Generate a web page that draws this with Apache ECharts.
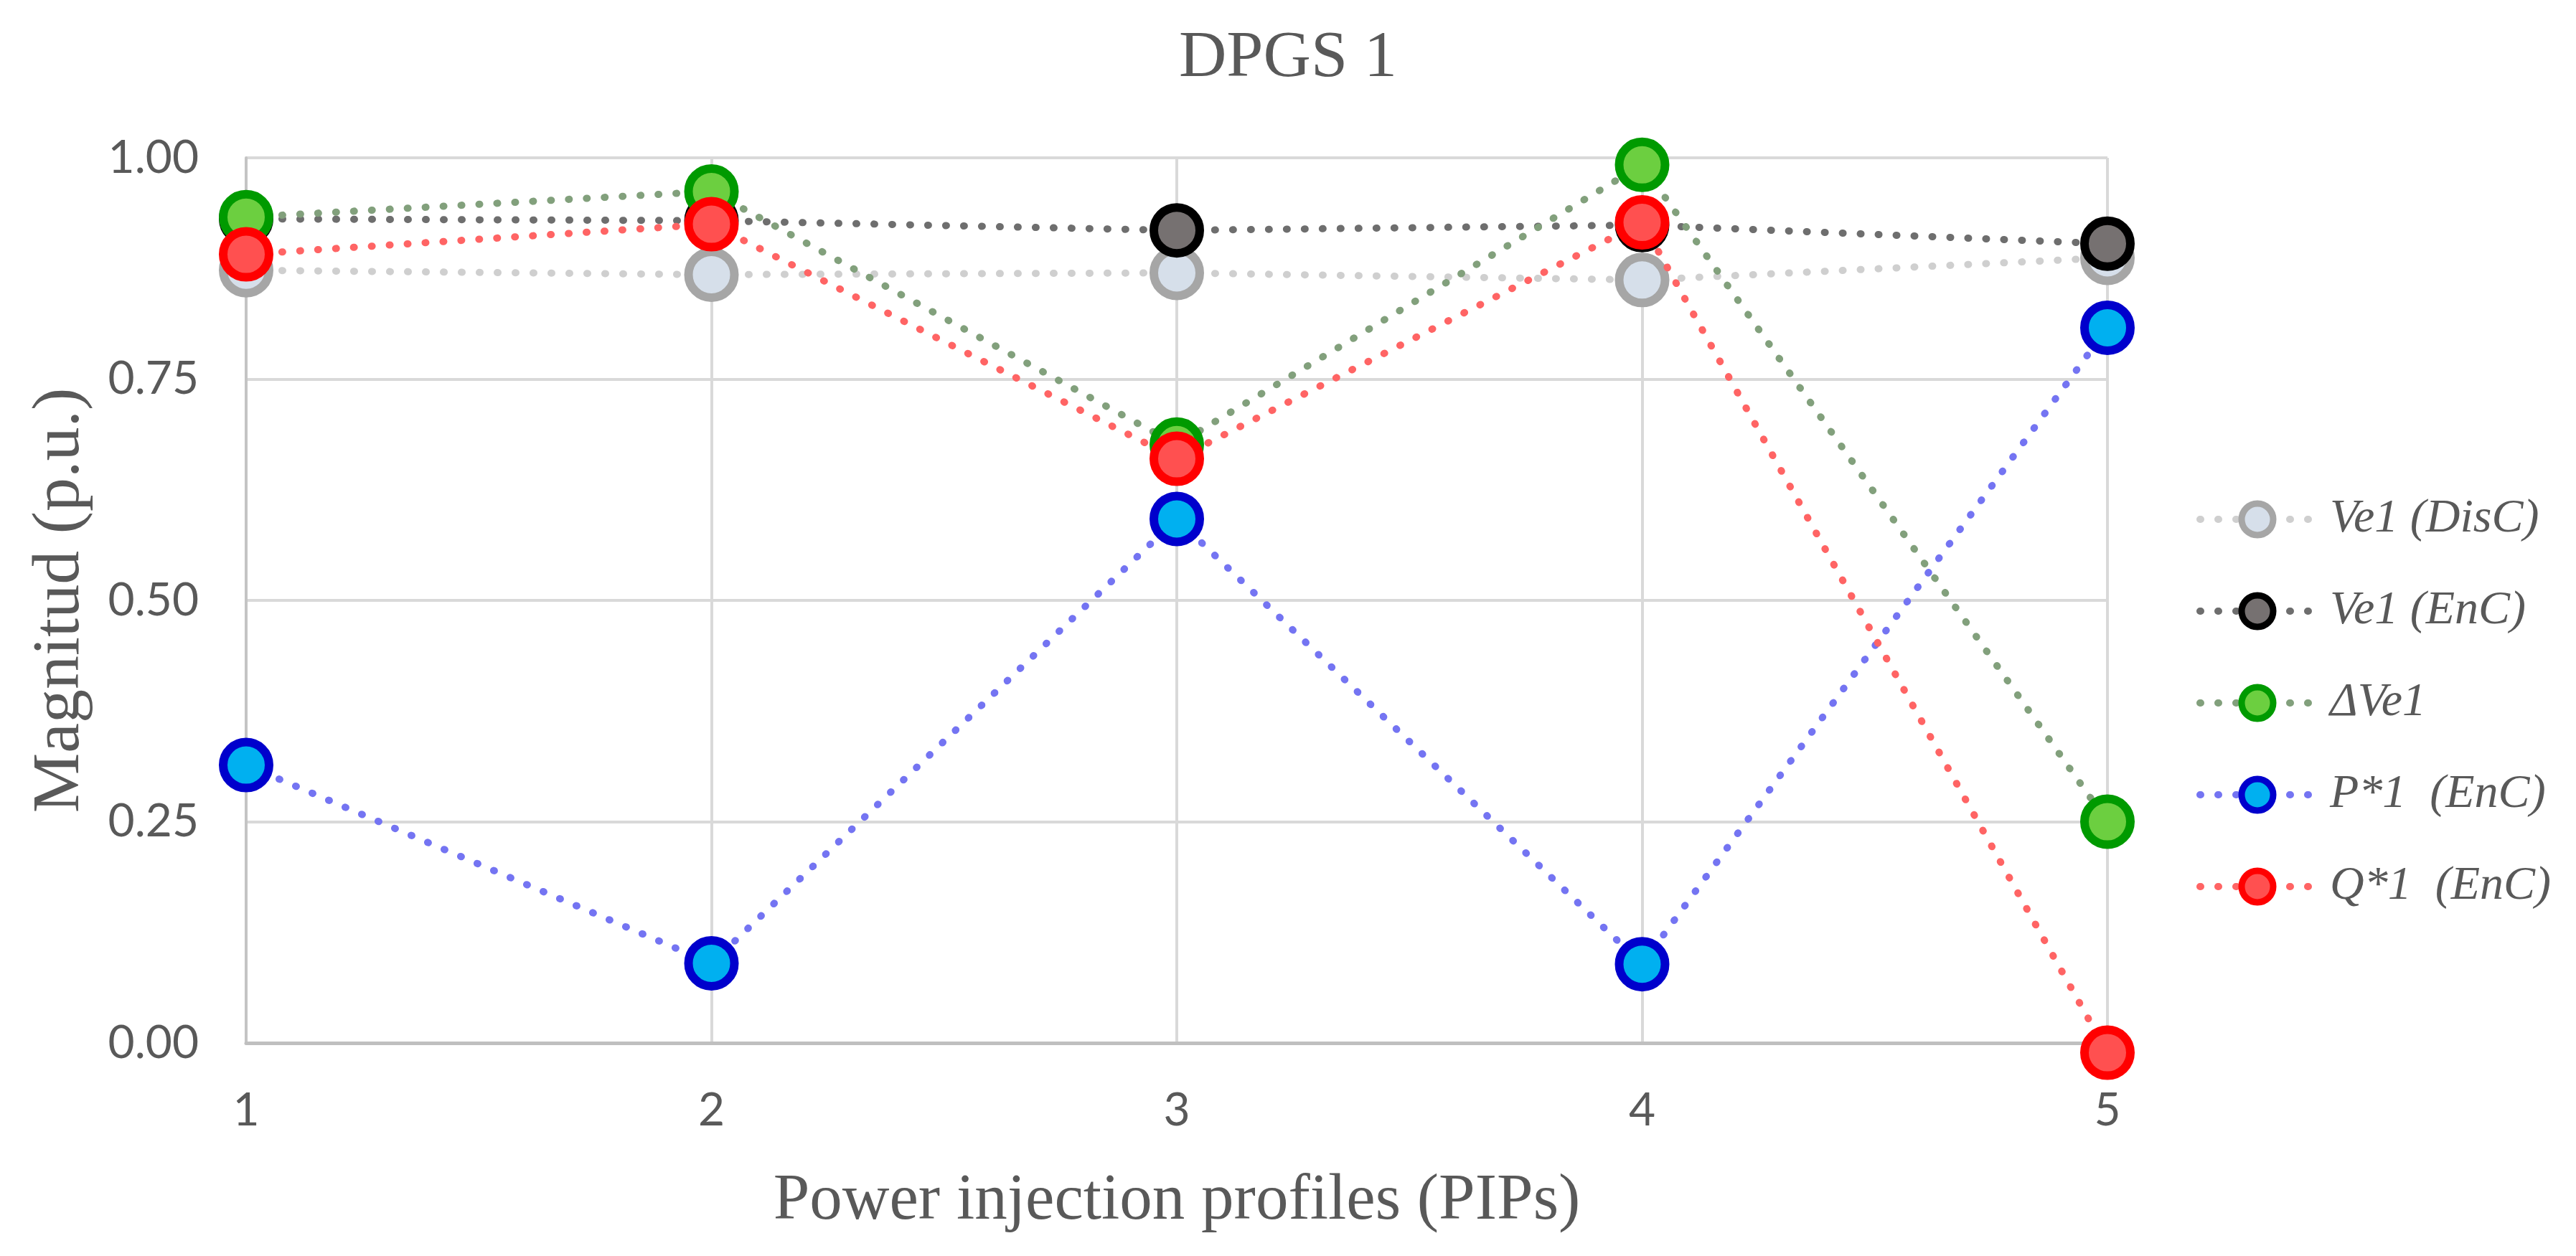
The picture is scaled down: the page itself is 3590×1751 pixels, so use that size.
<!DOCTYPE html>
<html>
<head>
<meta charset="utf-8">
<script src="https://cdn.jsdelivr.net/npm/echarts@6/dist/echarts.min.js"></script>
<style>
html,body{margin:0;padding:0;background:#fff;}
#c{width:3590px;height:1751px;}
</style>
</head>
<body>
<div id="c"></div>
<script>
const categories = ['1', '2', '3', '4', '5'];
const ve1DisC = [0.873, 0.868, 0.870, 0.862, 0.887];
const ve1EnC  = [0.931, 0.929, 0.918, 0.924, 0.903];
const dVe1    = [0.933, 0.962, 0.676, 0.992, 0.250];
const pStar1  = [0.314, 0.090, 0.592, 0.089, 0.808];
const qStar1  = [0.891, 0.925, 0.660, 0.927, -0.011];
const seriesNames = ['Ve1 (DisC)', 'Ve1 (EnC)', '\u0394Ve1', 'P*1  (EnC)', 'Q*1  (EnC)'];
const yTicks = [0, 0.25, 0.5, 0.75, 1];

const styles = [
  {line: '#cfcfcf', border: '#a6a6a6', fill: '#d6dfea'},
  {line: '#6e6e6e', border: '#000000', fill: '#767171'},
  {line: '#82a07c', border: '#009a00', fill: '#6ccf40'},
  {line: '#7474f2', border: '#0000cc', fill: '#00b0f0'},
  {line: '#ff6464', border: '#ff0000', fill: '#ff5050'}
];
const values = [ve1DisC, ve1EnC, dVe1, pStar1, qStar1];

const chart = echarts.init(document.getElementById('c'));
chart.setOption({
  animation: false,
  backgroundColor: '#ffffff',
  title: {
    text: 'DPGS 1',
    left: 'center',
    top: 31,
    textStyle: {fontFamily: 'Liberation Serif', fontSize: 92, fontWeight: 'normal', color: '#595959'}
  },
  grid: {left: 343, right: 653, top: 220, bottom: 297},
  legend: {
    orient: 'vertical',
    left: 3056,
    top: 686,
    itemWidth: 160,
    itemHeight: 55,
    itemGap: 62,
    textStyle: {fontFamily: 'Liberation Serif', fontStyle: 'italic', fontSize: 66, color: '#595959', padding: [0, 0, 0, 16]},
    data: seriesNames.map((n, i) => ({
      name: n,
      itemStyle: {color: styles[i].fill, borderColor: styles[i].border, borderWidth: 9},
      lineStyle: {color: styles[i].line, width: 10, type: [1, 24], cap: 'round'}
    }))
  },
  xAxis: {
    type: 'category',
    data: categories,
    boundaryGap: false,
    name: 'Power injection profiles (PIPs)',
    nameLocation: 'middle',
    nameGap: 176,
    nameTextStyle: {fontFamily: 'Liberation Serif', fontSize: 91, color: '#595959'},
    axisLine: {lineStyle: {color: '#bfbfbf', width: 5}},
    axisTick: {show: false},
    axisLabel: {fontFamily: 'Lato', fontSize: 64, color: '#595959', margin: 62},
    splitLine: {show: true, lineStyle: {color: '#d9d9d9', width: 4}}
  },
  yAxis: {
    type: 'value',
    min: 0,
    max: 1,
    interval: 0.25,
    name: 'Magnitud (p.u.)',
    nameLocation: 'middle',
    nameGap: 212,
    nameTextStyle: {fontFamily: 'Liberation Serif', fontSize: 94, color: '#595959'},
    axisLine: {show: true, lineStyle: {color: '#c4c4c4', width: 4}},
    axisTick: {show: false},
    axisLabel: {fontFamily: 'Lato', fontSize: 64, color: '#595959', margin: 66,
      formatter: v => yTicks.indexOf(v) >= 0 ? v.toFixed(2) : ''},
    splitLine: {show: true, lineStyle: {color: '#d9d9d9', width: 4}}
  },
  series: values.map((vals, i) => ({
    name: seriesNames[i],
    type: 'line',
    data: vals,
    clip: false,
    symbol: 'circle',
    symbolSize: 64,
    lineStyle: {color: styles[i].line, width: 10, type: [1, 24], cap: 'round'},
    itemStyle: {color: styles[i].fill, borderColor: styles[i].border, borderWidth: 12},
    emphasis: {disabled: true},
    z: 2 + i
  }))
});
</script>
</body>
</html>
